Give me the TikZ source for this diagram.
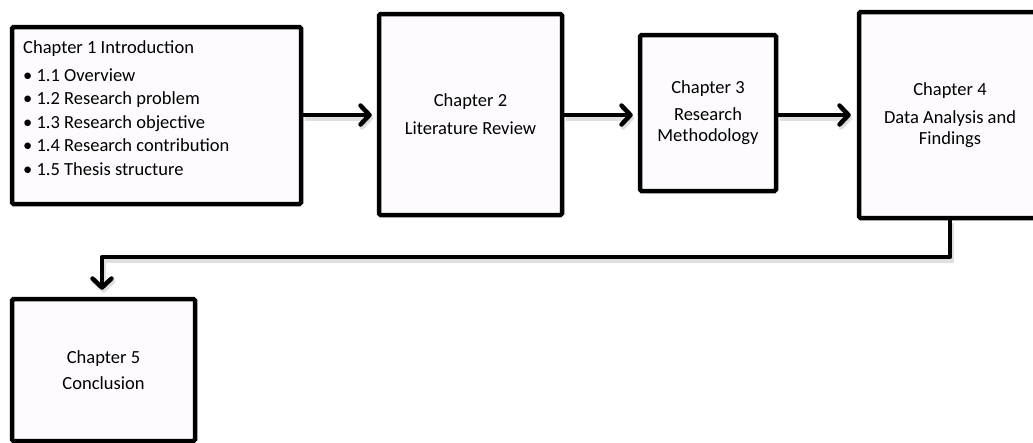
\documentclass[tikz,border=0pt]{standalone}
\usepackage{fontspec}
\setmainfont{Carlito}
\usetikzlibrary{arrows.meta}
\definecolor{boxfill}{RGB}{253,251,254}
\begin{document}
\begin{tikzpicture}[x=1pt,y=-1pt,
  chap/.style={draw=black, line width=4.5pt, fill=boxfill, rounded corners=1.5pt,
    align=center, inner sep=0pt, font=\fontsize{18.5}{21}\selectfont},
  conn/.style={line width=4.8pt, line join=round,
    -{Straight Barb[length=9pt,width=19pt,line width=4.5pt,round]},
    preaction={draw=black!35, opacity=0.35, line width=5pt,
      transform canvas={shift={(1.5pt,-3pt)}}}},
  body/.style={align=left, inner sep=0pt, anchor=north west, font=\fontsize{18.5}{23.4}\selectfont}
]
\useasboundingbox (0,0) rectangle (1033,442);
\clip (0,0) rectangle (1033,442);
\fill[white] (0,0) rectangle (1033,442);

\node[chap, minimum width=289pt, minimum height=177pt] (c1) at (156.5,115.5) {};
\node[body] (c1t) at (23,40) {Chapter 1 Introduction\\[5pt]
• 1.1 Overview\\
• 1.2 Research problem\\
• 1.3 Research objective\\
• 1.4 Research contribution\\
• 1.5 Thesis structure};

\node[chap, minimum width=183pt, minimum height=201pt] (c2) at (470.5,114.5)
  {Chapter 2\\[7pt]Literature Review};
\node[chap, minimum width=136pt, minimum height=156pt] (c3) at (708,113)
  {Chapter 3\\[6pt]Research\\Methodology};
\node[chap, minimum width=182pt, minimum height=206pt] (c4) at (950,115)
  {Chapter 4\\[7pt]Data Analysis and\\Findings};
\node[chap, minimum width=183pt, minimum height=142pt] (c5) at (103.5,370)
  {Chapter 5\\[5pt]Conclusion};

\draw[conn, shorten >=5pt] (c1.east |- 0,115) -- (c2.west |- 0,115);
\draw[conn, shorten >=5pt] (c2.east |- 0,115) -- (c3.west |- 0,115);
\draw[conn, shorten >=6pt] (c3.east |- 0,115) -- (c4.west |- 0,115);
\draw[conn, shorten >=7pt] (c4.south) -- (c4.south |- 0,257) -| (c5.north -| 102,0);
\end{tikzpicture}
\end{document}
